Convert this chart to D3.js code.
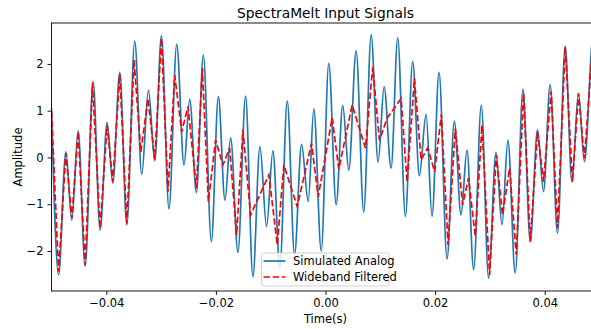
<!DOCTYPE html>
<html>
<head>
<meta charset="utf-8">
<script src="https://cdn.jsdelivr.net/npm/d3@7"></script>
<style>
  body { margin: 0; background: #fff; }
  text { font-family: "DejaVu Sans", sans-serif; fill: #000; }
</style>
</head>
<body>
<div id="chart"></div>
<script>
// extrema (time in s, amplitude)
const analogTime = [-0.05, -0.04871, -0.04738, -0.04629, -0.04514, -0.04386, -0.04241, -0.04113, -0.03985, -0.03882,
  -0.03754, -0.03626, -0.03481, -0.03353, -0.03231, -0.03116, -0.02994, -0.02856, -0.02715, -0.02582,
  -0.02478, -0.02356, -0.02229, -0.02083, -0.01955, -0.01835, -0.01731, -0.01598, -0.01458, -0.01325,
  -0.01197, -0.01075, -0.0096, -0.00833, -0.00698, -0.00565, -0.00437, -0.00315, -0.00213, -0.00078,
  0.0006, 0.00195, 0.00315, 0.00425, 0.00559, 0.00698, 0.00833, 0.0096, 0.0107, 0.01197,
  0.01318, 0.01458, 0.01591, 0.01713, 0.01835, 0.01944, 0.02072, 0.02218, 0.02351, 0.02473,
  0.02582, 0.02703, 0.02843, 0.02976, 0.03111, 0.0322, 0.03329, 0.03462, 0.03603, 0.03736,
  0.03869, 0.03978, 0.041, 0.04233, 0.04374, 0.04496, 0.04616, 0.04725, 0.04884, 0.05];
const analogValue = [1.05, -2.51, 0.12, -1.34, 0.57, -2.33, 1.63, -1.55, 0.75, -0.55,
  1.82, -1.44, 2.49, -0.36, 1.44, -0.07, 2.60, -1.10, 2.42, -0.16,
  1.24, -0.75, 2.19, -1.80, 1.30, -0.91, 0.42, -2.03, 1.31, -2.55,
  0.23, -1.48, 0.14, -2.36, 1.21, -2.08, 0.28, -0.94, 1.04, -2.00,
  2.01, -1.01, 1.11, -0.27, 2.28, -1.17, 2.62, -0.10, 1.51, -0.23,
  2.56, -1.26, 2.05, -0.39, 0.92, -1.26, 1.82, -2.17, 0.78, -1.23,
  0.16, -2.40, 1.12, -2.58, 0.11, -1.44, 0.37, -2.47, 1.46, -1.80,
  0.59, -0.73, 1.56, -1.62, 2.37, -0.52, 1.37, -0.09, 2.60, 1.9];

const filteredTime = [-0.05, -0.04871, -0.04738, -0.04629, -0.04514, -0.04386, -0.04252, -0.04113, -0.03985, -0.03882,
  -0.03754, -0.03626, -0.03493, -0.03371, -0.03238, -0.03116, -0.02994, -0.02874, -0.02752, -0.02624,
  -0.02509, -0.02356, -0.02247, -0.02138, -0.02005, -0.01872, -0.01749, -0.01622, -0.01507, -0.01367,
  -0.01033, -0.0088, -0.0076, -0.00516, -0.00255, -0.00133, 0.00122, 0.00242, 0.00487, 0.00729,
  0.00862, 0.00984, 0.01124, 0.0138, 0.01489, 0.01622, 0.01744, 0.01864, 0.01992, 0.02114,
  0.02236, 0.02369, 0.02502, 0.02611, 0.02733, 0.02856, 0.02994, 0.03116, 0.03231, 0.03359,
  0.03481, 0.03614, 0.03736, 0.03869, 0.03978, 0.04118, 0.04233, 0.04374, 0.04507, 0.04616,
  0.04725, 0.04884, 0.05];
const filteredValue = [0.98, -2.44, 0.09, -1.30, 0.55, -2.30, 1.59, -1.51, 0.69, -0.52,
  1.78, -1.41, 2.08, 0.12, 1.26, -0.05, 2.55, -0.73, 1.76, 0.55,
  1.09, -0.66, 1.91, -0.94, 0.37, -0.16, 0.2, -1.66, 0.59, -1.23,
  -0.37, -1.87, -0.16, -1.05, 0.30, -0.84, 0.85, -0.25, 1.12, 0.2,
  1.94, 0.37, 0.84, 1.26, -0.52, 1.69, -0.05, 0.2, -0.30, 0.92,
  -1.87, 0.62, -1.01, -0.44, -1.69, 0.69, -2.51, 0.05, -1.23, -0.23,
  -2.08, 1.37, -1.80, 0.55, -0.52, 1.41, -1.51, 2.37, -0.52, 1.37,
  -0.02, 2.55, 1.9];

const xTicks = [-0.04, -0.02, 0.00, 0.02, 0.04];
const yTicks = [-2, -1, 0, 1, 2];
const seriesNames = ['Simulated Analog', 'Wideband Filtered'];

const width = 591, height = 329;
const plotLeft = 51.5, plotRight = 599.5, plotTop = 23, plotBottom = 291;

const svg = d3.select('#chart').append('svg')
  .attr('width', width)
  .attr('height', height);

const x = d3.scaleLinear().domain([-0.05, 0.05]).range([plotLeft, plotRight]);
const y = d3.scaleLinear().domain([-2.855, 2.875]).range([plotBottom, plotTop]);

svg.append('defs').append('clipPath').attr('id', 'plotclip')
  .append('rect')
  .attr('x', plotLeft).attr('y', plotTop)
  .attr('width', plotRight - plotLeft).attr('height', plotBottom - plotTop);

const analog = analogTime.map((t, i) => ({ t: t, v: analogValue[i] }));
const filtered = filteredTime.map((t, i) => ({ t: t, v: filteredValue[i] }));

const plot = svg.append('g').attr('clip-path', 'url(#plotclip)');

plot.append('path')
  .datum(analog)
  .attr('fill', 'none')
  .attr('stroke', '#1f77b4')
  .attr('stroke-width', 1.7)
  .attr('d', d3.line().x(d => x(d.t)).y(d => y(d.v)).curve(d3.curveMonotoneX));

plot.append('path')
  .datum(filtered)
  .attr('fill', 'none')
  .attr('stroke', '#ff0000')
  .attr('stroke-width', 1.7)
  .attr('stroke-dasharray', '6.4,2.8')
  .attr('d', d3.line().x(d => x(d.t)).y(d => y(d.v)));

// axes
const xAxis = svg.append('g')
  .attr('transform', `translate(0,${plotBottom})`)
  .call(d3.axisBottom(x).tickValues(xTicks).tickFormat(d3.format('.2f')).tickSizeOuter(0).tickSize(4).tickPadding(4));
const yAxis = svg.append('g')
  .attr('transform', `translate(${plotLeft},0)`)
  .call(d3.axisLeft(y).tickValues(yTicks).tickFormat(d3.format('d')).tickSizeOuter(0).tickSize(4).tickPadding(4));

[xAxis, yAxis].forEach(a => {
  a.select('.domain').remove();
  a.selectAll('line').attr('stroke', '#000').attr('stroke-width', 0.9);
  a.selectAll('text').style('font-size', '11.5px').style('font-family', '"DejaVu Sans", sans-serif').attr('fill', '#000');
});

// spines
svg.append('rect')
  .attr('x', plotLeft).attr('y', plotTop)
  .attr('width', plotRight - plotLeft).attr('height', plotBottom - plotTop)
  .attr('fill', 'none')
  .attr('stroke', '#000')
  .attr('stroke-width', 0.9);

svg.append('text')
  .attr('x', (plotLeft + plotRight) / 2).attr('y', 17.5)
  .attr('text-anchor', 'middle')
  .style('font-size', '13.8px')
  .text('SpectraMelt Input Signals');

svg.append('text')
  .attr('x', (plotLeft + plotRight) / 2).attr('y', 322.5)
  .attr('text-anchor', 'middle')
  .style('font-size', '11.5px')
  .text('Time(s)');

svg.append('text')
  .attr('transform', `translate(22,${(plotTop + plotBottom) / 2}) rotate(-90)`)
  .attr('text-anchor', 'middle')
  .style('font-size', '11.5px')
  .text('Amplitude');

// legend
const legend = svg.append('g').attr('transform', 'translate(261.5,253)');
legend.append('rect')
  .attr('width', 127.5).attr('height', 33)
  .attr('rx', 2.5)
  .attr('fill', 'rgba(255,255,255,0.8)')
  .attr('stroke', '#cccccc')
  .attr('stroke-width', 0.9);

const styles = [
  { color: '#1f77b4', dash: null },
  { color: '#ff0000', dash: '6.4,2.8' }
];
seriesNames.forEach((name, i) => {
  const row = legend.append('g').attr('transform', `translate(0,${8 + i * 16})`);
  row.append('line')
    .attr('x1', 2).attr('x2', 24)
    .attr('stroke', styles[i].color)
    .attr('stroke-width', 1.7)
    .attr('stroke-dasharray', styles[i].dash);
  row.append('text')
    .attr('x', 31.5).attr('y', 4)
    .style('font-size', '11.5px')
    .text(name);
});
</script>
</body>
</html>
